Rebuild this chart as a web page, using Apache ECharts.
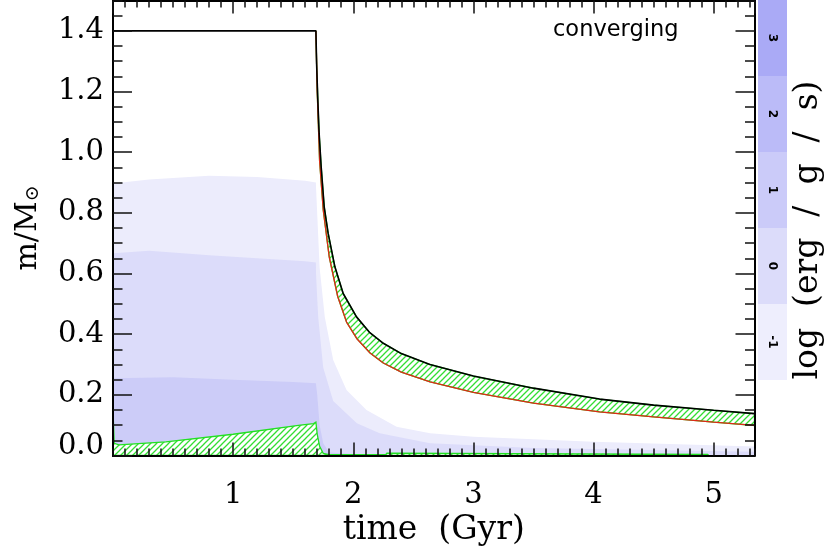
<!DOCTYPE html>
<html><head><meta charset="utf-8">
<script src="https://cdn.jsdelivr.net/npm/echarts@6/dist/echarts.min.js"></script>
<style>html,body{margin:0;padding:0;background:#fff}#c{width:830px;height:553px}</style>
</head><body><div id="c"></div>
<script>
// ---------- data ----------
// total mass (black line) = upper edge of hatched envelope band
const topT = [0, 1.689, 1.695, 1.705, 1.716, 1.733, 1.758, 1.791, 1.847, 1.916, 2.027, 2.138, 2.25, 2.4, 2.638, 3.0, 3.5, 4.05, 4.5, 5.0, 5.34];
const topM = [1.4, 1.4, 1.29, 1.171, 1.061, 0.951, 0.82, 0.732, 0.622, 0.534, 0.457, 0.405, 0.370, 0.336, 0.300, 0.262, 0.222, 0.186, 0.166, 0.149, 0.138];
// lower edge of the hatched envelope band (red line)
const lowT = [1.689, 1.70, 1.72, 1.75, 1.80, 1.87, 1.944, 2.03, 2.14, 2.25, 2.4, 2.64, 3.0, 3.5, 4.05, 4.5, 5.0, 5.34];
const lowM = [1.40, 1.2, 0.97, 0.81, 0.655, 0.525, 0.44, 0.385, 0.338, 0.305, 0.275, 0.243, 0.208, 0.173, 0.144, 0.127, 0.11, 0.099];
// hatched core region (bottom)
const coreT = [0, 0, 0.01, 0.05, 0.44, 1.0, 1.56, 1.67, 1.689, 1.7, 1.72, 1.75, 1.8, 2.27, 2.28, 4.95, 4.96];
const coreM = [0, 0.15, 0.04, 0.035, 0.045, 0.07, 0.1, 0.105, 0.11, 0.07, 0.03, 0.007, 0.003, 0.003, 0.008, 0.004, 0];
// energy generation contours: upper boundaries
const lvlM1T = [0, 0.3, 0.8, 1.2, 1.6, 1.689, 1.69, 1.72, 1.763, 1.833, 1.944, 2.11, 2.36, 2.64, 3.0, 4.0, 5.34];
const lvlM1M = [0.897, 0.91, 0.922, 0.918, 0.906, 0.9, 0.885, 0.62, 0.457, 0.315, 0.216, 0.15, 0.095, 0.073, 0.062, 0.045, 0.03];
const lvl0T = [0, 0.3, 0.8, 1.3, 1.6, 1.689, 1.69, 1.708, 1.75, 1.833, 2.03, 2.22, 2.64, 3.5, 5.34];
const lvl0M = [0.667, 0.675, 0.66, 0.648, 0.64, 0.636, 0.6, 0.457, 0.29, 0.18, 0.106, 0.073, 0.04, 0.025, 0.012];
const lvl1T = [0, 0.5, 1.0, 1.5, 1.689, 1.70, 1.72, 1.75, 1.8, 2.2];
const lvl1M = [0.255, 0.258, 0.25, 0.242, 0.238, 0.2, 0.1, 0.04, 0.01, 0.0];
// colour bar
const cbLevels = ['-1', '0', '1', '2', '3'];
const cbColors = ['#eeeefd', '#dcdcfa', '#cbcbf9', '#bbbbf8', '#aaaaf6'];
const cbValues = [1, 1, 1, 1, 1];
const xMajor = 1, xMinor = 0.1, yMajor = 0.2, yMinor = 0.05;

const zip = (a, b) => a.map((v, i) => [v, b[i]]);

// hatch pattern
const hc = document.createElement('canvas');
hc.width = 6; hc.height = 6;
const hx = hc.getContext('2d');
hx.fillStyle = '#ffffff'; hx.fillRect(0, 0, 6, 6);
hx.strokeStyle = '#33dd33'; hx.lineWidth = 1.3;
hx.beginPath();
hx.moveTo(-1, 7); hx.lineTo(7, -1);
hx.moveTo(-4, 4); hx.lineTo(4, -4);
hx.moveTo(2, 10); hx.lineTo(10, 2);
hx.stroke();
const hatch = {image: hc, repeat: 'repeat'};

const serif = 'DejaVu Serif';
function xAx(pos, interval, len, labels) {
  return {type: 'value', gridIndex: 0, position: pos, min: 0, max: 5.34, interval: interval, z: 10,
    axisLine: {show: true, onZero: false, lineStyle: {color: '#000', width: 2}},
    axisTick: {show: true, inside: true, length: len, lineStyle: {color: '#111', width: 1.5}},
    axisLabel: {show: labels, showMinLabel: false, showMaxLabel: false, margin: 25,
      fontFamily: serif, fontSize: 29, color: '#000'},
    splitLine: {show: false}};
}
function yAx(pos, interval, len, labels) {
  return {type: 'value', gridIndex: 0, position: pos, min: 0, max: 1.5, interval: interval, z: 10,
    axisLine: {show: true, onZero: false, lineStyle: {color: '#000', width: 2}},
    axisTick: {show: true, inside: true, length: len, lineStyle: {color: '#111', width: 1.5}},
    axisLabel: {show: labels, showMaxLabel: false, margin: 9, verticalAlignMinLabel: 'bottom',
      formatter: v => (v === 0 ? '{z|0.0}' : v.toFixed(1)),
      rich: {z: {fontFamily: serif, fontSize: 29, color: '#000', lineHeight: 18}},
      fontFamily: serif, fontSize: 29, color: '#000'},
    splitLine: {show: false}};
}
const xAxes = [xAx('bottom', xMajor, 13, true), xAx('bottom', xMinor, 7, false), xAx('top', xMajor, 13, false), xAx('top', xMinor, 7, false)];
xAxes[0].name = 'time  (Gyr)';
xAxes[0].nameLocation = 'middle';
xAxes[0].nameGap = 58;
xAxes[0].nameTextStyle = {fontFamily: serif, fontSize: 33, color: '#000'};
const yAxes = [yAx('left', yMajor, 19, true), yAx('left', yMinor, 9.5, false), yAx('right', yMajor, 19, false), yAx('right', yMinor, 9.5, false)];
yAxes[0].name = '{a|m/M}{s|⊙}';
yAxes[0].nameLocation = 'middle';
yAxes[0].nameRotate = 90;
yAxes[0].nameGap = 70;
yAxes[0].nameTextStyle = {rich: {a: {fontFamily: serif, fontSize: 30, color: '#000'}, s: {fontFamily: serif, fontSize: 19, color: '#000', padding: [10, 0, 0, 0]}}};

xAxes.push({type: 'value', gridIndex: 1, min: 0, max: 1, show: false});
yAxes.push({type: 'category', gridIndex: 1, data: cbLevels, show: false, boundaryGap: true});

function areaSeries(T, M, color) {
  return {type: 'line', xAxisIndex: 0, yAxisIndex: 0, data: zip(T, M), symbol: 'none', silent: true, z: 1,
    lineStyle: {width: 0, color: color}, areaStyle: {color: color, opacity: 1}, animation: false};
}
function bandSeries(upT, upM, loT, loM) {
  return {type: 'custom', xAxisIndex: 0, yAxisIndex: 0, data: [[upT[0], upM[0]]], silent: true, animation: false, z: 3,
    renderItem: function (params, api) {
      const pts = [];
      for (let i = 0; i < upT.length; i++) pts.push(api.coord([upT[i], upM[i]]));
      for (let i = loT.length - 1; i >= 0; i--) pts.push(api.coord([loT[i], loM[i]]));
      return {type: 'polygon', shape: {points: pts}, style: {fill: hatch, stroke: '#22e022', lineWidth: 1.3}};
    }};
}
// zero baseline for core band
const coreBaseT = [coreT[coreT.length - 1], 0];
const coreBaseM = [0, 0];

const option = {
  backgroundColor: '#fff',
  animation: false,
  grid: [{left: 113, top: 0.5, width: 641.5, height: 455}, {left: 758, top: 0, width: 29, height: 380}],
  xAxis: xAxes,
  yAxis: yAxes,
  series: [
    areaSeries(lvlM1T, lvlM1M, '#ececfc'),
    areaSeries(lvl0T, lvl0M, '#dcdcfa'),
    areaSeries(lvl1T, lvl1M, '#ccccf8'),
    bandSeries(topT.slice(1), topM.slice(1), lowT, lowM),
    bandSeries(coreT, coreM, coreBaseT, coreBaseM),
    {type: 'line', data: zip(lowT, lowM), symbol: 'none', silent: true, lineStyle: {color: '#e02818', width: 1.3}, z: 4},
    {type: 'line', data: zip(topT, topM), symbol: 'none', silent: true, lineStyle: {color: '#000', width: 1.6}, z: 5},
    {type: 'bar', xAxisIndex: 4, yAxisIndex: 4, barWidth: '100%', silent: true,
      data: cbValues.map((v, i) => ({value: v, itemStyle: {color: cbColors[i]}})),
      label: {show: true, position: 'inside', rotate: -90, formatter: p => cbLevels[p.dataIndex],
        fontFamily: 'DejaVu Sans', fontWeight: 'bold', fontSize: 12, color: '#000'}}
  ],
  graphic: [
    {type: 'text', left: 553, top: 19, style: {text: 'converging', font: '22.5px "DejaVu Sans"', fill: '#000'}},
    {type: 'text', x: 808, y: 230, rotation: Math.PI / 2,
      style: {text: 'log  (erg  /  g  /  s)', font: '33px "DejaVu Serif"', fill: '#000', align: 'center', verticalAlign: 'middle'}}
  ]
};
const chart = echarts.init(document.getElementById('c'), null, {renderer: 'canvas'});
chart.setOption(option);
</script></body></html>
